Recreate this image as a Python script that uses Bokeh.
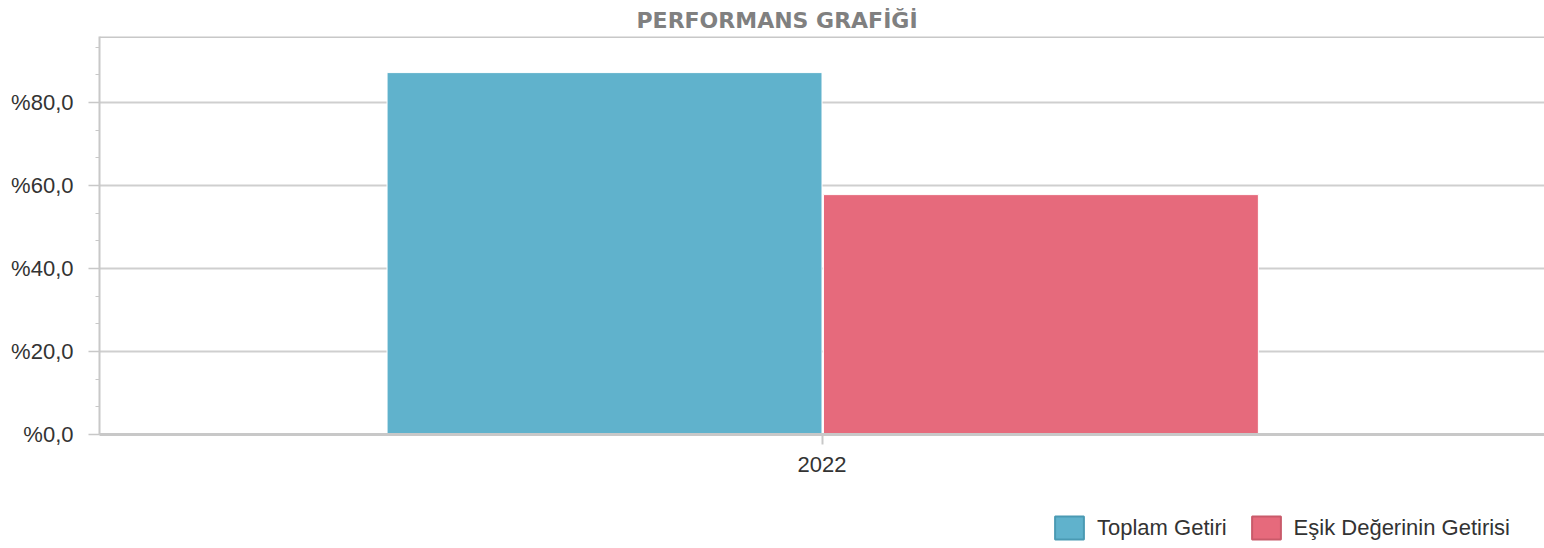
from bokeh.plotting import figure
from bokeh.layouts import column
from bokeh.models import (FactorRange, Range1d, SingleIntervalTicker, CustomJSTickFormatter,
                          Legend, LegendItem, ColumnDataSource, Span)
from bokeh.transform import dodge
from bokeh.embed import file_html
from bokeh.resources import INLINE

# ---- data ----
title_text = "PERFORMANS GRAFİĞİ"
years = ["2022"]
series_names = ["Toplam Getiri", "Eşik Değerinin Getirisi"]
toplam_getiri = [87.2]
esik_getiri = [57.8]
y_ticks_interval = 20
y_max = 95.9

# ---- styles ----
series_colors = ["#60b2cc", "#e66a7c"]
legend_borders = ["#4a9ab3", "#c95a6a"]
axis_grey = "#c8c8c8"
text_dark = "#333333"
font_main = "Liberation Sans"

src = ColumnDataSource(dict(year=years, toplam=toplam_getiri, esik=esik_getiri))

p = figure(width=1544, height=505,
           x_range=FactorRange(factors=years, range_padding=0),
           y_range=Range1d(0, y_max),
           output_backend="svg", toolbar_location=None,
           min_border_left=99, min_border_right=0, min_border_top=36, min_border_bottom=71)
p.outline_line_color = None
p.background_fill_color = "white"
p.border_fill_color = "white"

r1 = p.vbar(x=dodge("year", -0.1505, range=p.x_range), top="toplam", width=0.301, source=src,
            fill_color=series_colors[0], line_color="white", line_width=1)
r2 = p.vbar(x=dodge("year", 0.1515, range=p.x_range), top="esik", width=0.301, source=src,
            fill_color=series_colors[1], line_color="white", line_width=1)

# title
p.title.text = title_text
p.title.align = "left"
p.title.offset = 537
p.title.text_font = "DejaVu Sans"
p.title.text_font_style = "bold"
p.title.text_font_size = "22px"
p.title.text_color = "#808080"
p.title.standoff = 8

# y axis
ticker = SingleIntervalTicker(interval=y_ticks_interval, num_minor_ticks=3)
p.yaxis.ticker = ticker
p.ygrid.ticker = ticker
p.yaxis.formatter = CustomJSTickFormatter(code='return "%" + tick.toFixed(1).replace(".", ",");')
p.yaxis.axis_line_color = axis_grey
p.yaxis.axis_line_width = 2
p.yaxis.major_tick_out = 11
p.yaxis.major_tick_in = 0
p.yaxis.major_tick_line_color = axis_grey
p.yaxis.major_tick_line_width = 1.5
p.yaxis.minor_tick_out = 4
p.yaxis.minor_tick_in = 0
p.yaxis.minor_tick_line_color = axis_grey
p.yaxis.minor_tick_line_width = 1
p.yaxis.major_label_text_font = font_main
p.yaxis.major_label_text_font_size = "22px"
p.yaxis.major_label_text_color = text_dark
p.yaxis.major_label_standoff = 15

# x axis
p.xaxis.axis_line_color = axis_grey
p.xaxis.axis_line_width = 3
p.xaxis.major_tick_out = 10
p.xaxis.major_tick_in = 0
p.xaxis.major_tick_line_color = axis_grey
p.xaxis.major_tick_line_width = 2
p.xaxis.minor_tick_line_color = None
p.xaxis.major_label_text_font = font_main
p.xaxis.major_label_text_font_size = "22px"
p.xaxis.major_label_text_color = text_dark
p.xaxis.major_label_standoff = 12

# grid
p.xgrid.grid_line_color = None
p.ygrid.grid_line_color = "#cfcfcf"
p.ygrid.grid_line_width = 2

# top border line
p.add_layout(Span(location=y_max, dimension="width", line_color=axis_grey, line_width=3))

# ---- legend strip (separate figure below) ----
lg = figure(width=1544, height=43, x_range=Range1d(0, 1), y_range=Range1d(0, 1),
            output_backend="svg", toolbar_location=None,
            x_axis_location=None, y_axis_location=None,
            min_border_left=0, min_border_right=0, min_border_top=0, min_border_bottom=0)
lg.outline_line_color = None
lg.xgrid.grid_line_color = None
lg.ygrid.grid_line_color = None
# legend proxies: zero-size, hidden under the legend's opaque background
leg_src = ColumnDataSource(dict(x=[0.75], v=[0.5]))
l1 = lg.vbar(x="x", top="v", bottom="v", width=0, source=leg_src,
             fill_color=series_colors[0], line_color=legend_borders[0], line_width=2)
l2 = lg.vbar(x="x", top="v", bottom="v", width=0, source=leg_src,
             fill_color=series_colors[1], line_color=legend_borders[1], line_width=2)
legend = Legend(items=[LegendItem(label=series_names[0], renderers=[l1]),
                       LegendItem(label=series_names[1], renderers=[l2])],
                location=(952, 6), orientation="horizontal",
                glyph_width=36, glyph_height=29, label_standoff=10, spacing=21,
                padding=0, margin=0, border_line_color=None,
                background_fill_color="white", background_fill_alpha=1,
                label_text_font=font_main, label_text_font_size="22px",
                label_text_color=text_dark)
lg.add_layout(legend, "center")

layout = column(p, lg, spacing=0)
open("out.html", "w").write(file_html(layout, INLINE))
